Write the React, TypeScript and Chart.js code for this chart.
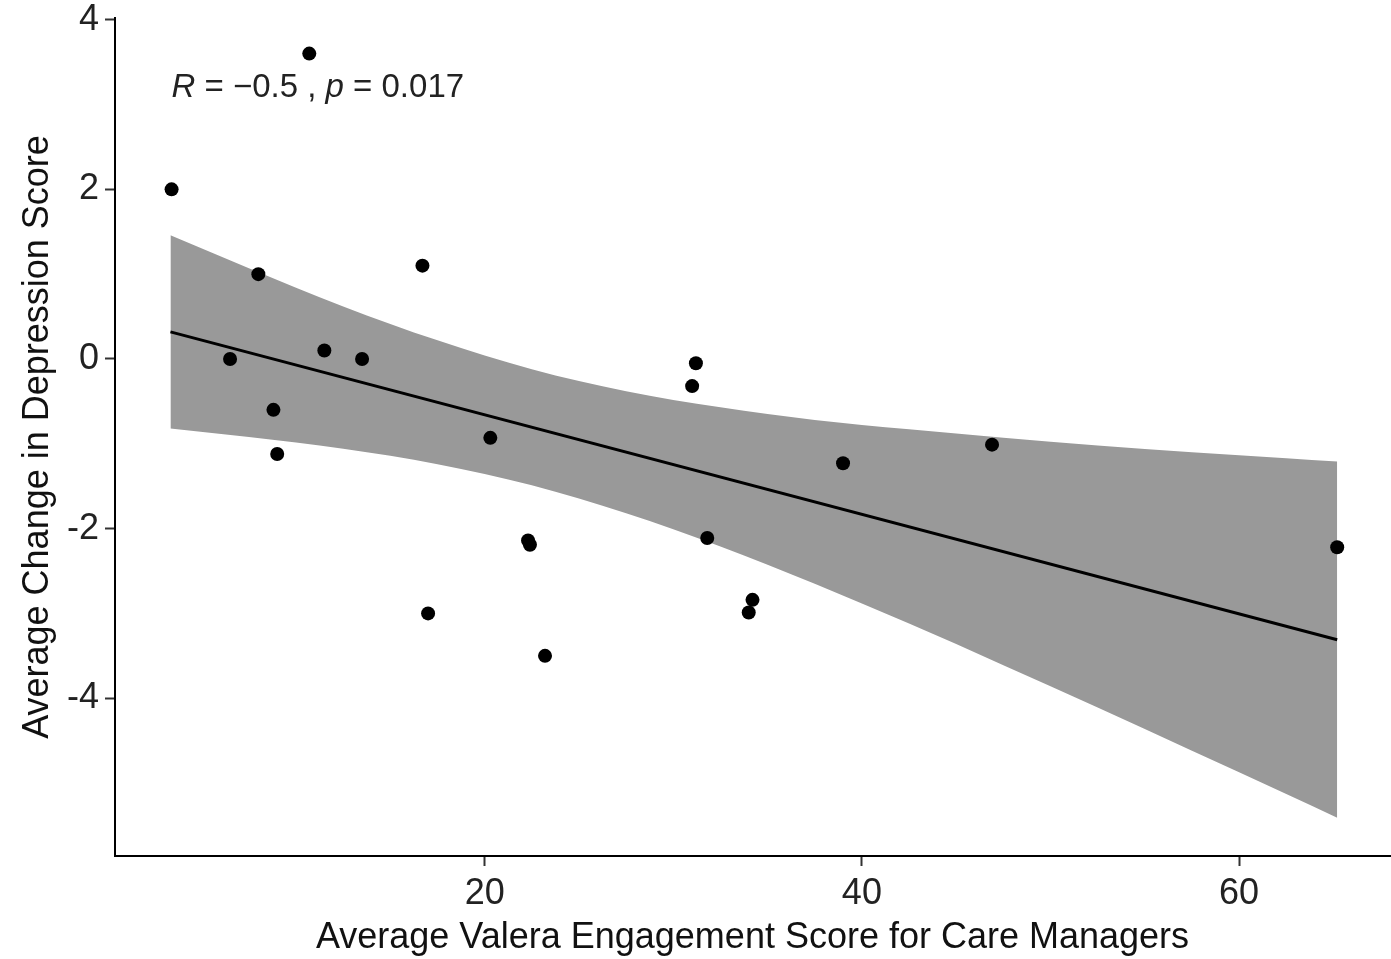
import React, { useEffect, useRef } from "react";
import { Chart, registerables } from "chart.js";

Chart.register(...registerables);

// Observed points
const engagementScores = [3.4, 10.7, 8.0, 6.5, 8.8, 9.0, 11.5, 13.5, 16.7, 17.0, 20.3, 22.3, 22.4, 23.2, 31.0, 31.2, 31.8, 34.0, 34.2, 39.0, 46.9, 65.2];
const depressionChanges = [2.0, 3.6, 1.0, 0.0, -0.6, -1.12, 0.1, 0.0, 1.1, -3.0, -0.93, -2.14, -2.19, -3.5, -0.32, -0.05, -2.11, -2.99, -2.84, -1.23, -1.01, -2.22];

// Fitted line
const fitX = [3.34, 65.2];
const fitY = [0.32, -3.31];

// Confidence band
const bandX = [3.34, 7.5, 12.5, 17.5, 22.5, 27.5, 32.5, 37.5, 42.5, 47.5, 52.5, 57.5, 62.5, 65.2];
const bandUpper = [1.46, 1.07, 0.62, 0.22, -0.12, -0.38, -0.57, -0.72, -0.83, -0.93, -1.02, -1.1, -1.17, -1.21];
const bandLower = [-0.82, -0.92, -1.06, -1.24, -1.49, -1.82, -2.21, -2.65, -3.12, -3.61, -4.11, -4.62, -5.13, -5.41];

const xTicks = [20, 40, 60];
const yTicks = [-4, -2, 0, 2, 4];

const xTitle = "Average Valera Engagement Score for Care Managers";
const yTitle = "Average Change in Depression Score";
const annotation = [
  { text: "R", italic: true },
  { text: " = \u22120.5 , ", italic: false },
  { text: "p", italic: true },
  { text: " = 0.017", italic: false },
];

const FONT = '"Liberation Sans", Arial, sans-serif';

const textPlugin = {
  id: "texts",
  afterDraw(chart: any) {
    const { ctx, chartArea } = chart;
    ctx.save();
    ctx.fillStyle = "#111";
    ctx.font = `36px ${FONT}`;
    ctx.textAlign = "center";
    ctx.textBaseline = "middle";
    ctx.fillText(xTitle, (chartArea.left + chartArea.right) / 2, chart.height - 21);
    ctx.save();
    ctx.translate(38, (chartArea.top + chartArea.bottom) / 2);
    ctx.rotate(-Math.PI / 2);
    ctx.fillText(yTitle, 0, 0);
    ctx.restore();

    // correlation annotation
    ctx.textAlign = "left";
    ctx.textBaseline = "alphabetic";
    ctx.fillStyle = "#222";
    let x = chart.scales.x.getPixelForValue(fitX[0]) + 1;
    const y = chartArea.top + 79;
    for (const seg of annotation) {
      ctx.font = `${seg.italic ? "italic " : ""}33px ${FONT}`;
      ctx.fillText(seg.text, x, y);
      x += ctx.measureText(seg.text).width;
    }
    ctx.restore();
  },
};

export default function App() {
  const ref = useRef<HTMLCanvasElement | null>(null);

  useEffect(() => {
    document.body.style.margin = "0";
    const canvas = ref.current;
    if (!canvas) return;
    const chart = new Chart(canvas, {
      type: "scatter",
      data: {
        datasets: [
          {
            label: "points",
            data: engagementScores.map((x, i) => ({ x, y: depressionChanges[i] })),
            backgroundColor: "#000",
            borderColor: "#000",
            pointRadius: 7,
            pointBorderWidth: 0,
          },
          {
            label: "fit",
            data: fitX.map((x, i) => ({ x, y: fitY[i] })),
            showLine: true,
            borderColor: "#000",
            borderWidth: 3,
            pointRadius: 0,
            fill: false,
          },
          {
            label: "upper",
            data: bandX.map((x, i) => ({ x, y: bandUpper[i] })),
            showLine: true,
            borderWidth: 0,
            borderColor: "rgba(0,0,0,0)",
            backgroundColor: "rgb(153,153,153)",
            pointRadius: 0,
            cubicInterpolationMode: "monotone",
            fill: "+1",
          },
          {
            label: "lower",
            data: bandX.map((x, i) => ({ x, y: bandLower[i] })),
            showLine: true,
            borderWidth: 0,
            borderColor: "rgba(0,0,0,0)",
            pointRadius: 0,
            cubicInterpolationMode: "monotone",
            fill: false,
          },
        ],
      },
      options: {
        responsive: false,
        animation: false,
        layout: { autoPadding: false, padding: { top: 18, right: 1, left: 0, bottom: 0 } },
        plugins: {
          legend: { display: false },
          tooltip: { enabled: false },
        },
        scales: {
          x: {
            type: "linear",
            min: 0.4,
            max: 68,
            afterFit: (s: any) => {
              s.height = 103;
              s.paddingLeft = 0;
              s.paddingRight = 0;
              s.paddingTop = 0;
              s.paddingBottom = 0;
            },
            afterBuildTicks: (s: any) => {
              s.ticks = xTicks.map((v) => ({ value: v }));
            },
            grid: {
              drawOnChartArea: false,
              drawTicks: true,
              tickLength: 10,
              tickWidth: 2,
              tickColor: "#333",
            },
            border: { display: true, color: "#000", width: 2 },
            ticks: {
              color: "#222",
              font: { family: FONT, size: 36 },
              padding: 6,
              maxRotation: 0,
              callback: (v: any) => String(v),
            },
          },
          y: {
            type: "linear",
            min: -5.86,
            max: 4.02,
            afterFit: (s: any) => {
              s.width = 115;
              s.paddingLeft = 0;
              s.paddingRight = 0;
              s.paddingTop = 0;
              s.paddingBottom = 0;
            },
            afterBuildTicks: (s: any) => {
              s.ticks = yTicks.map((v) => ({ value: v }));
            },
            grid: {
              drawOnChartArea: false,
              drawTicks: true,
              tickLength: 10,
              tickWidth: 2,
              tickColor: "#333",
            },
            border: { display: true, color: "#000", width: 2 },
            ticks: {
              color: "#222",
              font: { family: FONT, size: 36 },
              padding: 6,
              callback: (v: any) => String(v),
            },
          },
        },
      },
      plugins: [textPlugin],
    });
    return () => chart.destroy();
  }, []);

  return (
    <div style={{ width: 1391, height: 959, background: "#fff" }}>
      <canvas ref={ref} width={1391} height={959} />
    </div>
  );
}
